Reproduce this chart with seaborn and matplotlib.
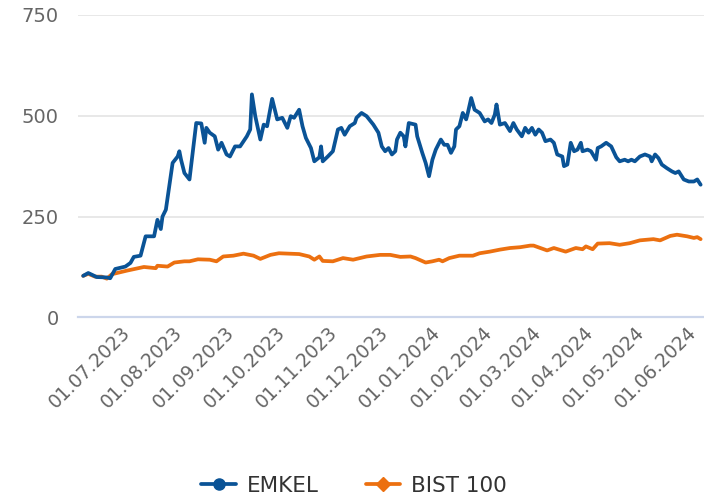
import pandas as pd
import seaborn as sns
import matplotlib.pyplot as plt
import matplotlib.dates as mdates
from matplotlib.lines import Line2D

sns.set_style("white")
plt.rcParams['font.family'] = ['DejaVu Sans']

# EMKEL (normalised to 100 at start)
emkel_dates = [
    "2023-06-05", "2023-06-08", "2023-06-13", "2023-06-19", "2023-06-21", "2023-06-24", "2023-06-30",
    "2023-07-03", "2023-07-05", "2023-07-09", "2023-07-12", "2023-07-17", "2023-07-19", "2023-07-21",
    "2023-07-22", "2023-07-24", "2023-07-28", "2023-07-31", "2023-08-01", "2023-08-02", "2023-08-04",
    "2023-08-07", "2023-08-11", "2023-08-14", "2023-08-16", "2023-08-17", "2023-08-19", "2023-08-22",
    "2023-08-24", "2023-08-26", "2023-08-29", "2023-08-31", "2023-09-03", "2023-09-06", "2023-09-10",
    "2023-09-12", "2023-09-13", "2023-09-15", "2023-09-18", "2023-09-20", "2023-09-22", "2023-09-25",
    "2023-09-28", "2023-10-01", "2023-10-04", "2023-10-06", "2023-10-08", "2023-10-11", "2023-10-13",
    "2023-10-15", "2023-10-18", "2023-10-20", "2023-10-23", "2023-10-24", "2023-10-25", "2023-10-28",
    "2023-10-31", "2023-11-03", "2023-11-05", "2023-11-07", "2023-11-10", "2023-11-13", "2023-11-14",
    "2023-11-17", "2023-11-20", "2023-11-24", "2023-11-27", "2023-11-29", "2023-12-01", "2023-12-03",
    "2023-12-05", "2023-12-07", "2023-12-08", "2023-12-10", "2023-12-12", "2023-12-13", "2023-12-15",
    "2023-12-19", "2023-12-20", "2023-12-23", "2023-12-25", "2023-12-27", "2023-12-29", "2023-12-31",
    "2024-01-03", "2024-01-05", "2024-01-07", "2024-01-09", "2024-01-11", "2024-01-12", "2024-01-14",
    "2024-01-16", "2024-01-18", "2024-01-19", "2024-01-21", "2024-01-23", "2024-01-26", "2024-01-29",
    "2024-01-31", "2024-02-02", "2024-02-04", "2024-02-05", "2024-02-07", "2024-02-10", "2024-02-13",
    "2024-02-15", "2024-02-17", "2024-02-20", "2024-02-22", "2024-02-24", "2024-02-26", "2024-02-28",
    "2024-03-01", "2024-03-03", "2024-03-05", "2024-03-08", "2024-03-10", "2024-03-12", "2024-03-15",
    "2024-03-16", "2024-03-18", "2024-03-20", "2024-03-22", "2024-03-24", "2024-03-26", "2024-03-27",
    "2024-03-30", "2024-04-01", "2024-04-04", "2024-04-05", "2024-04-07", "2024-04-10", "2024-04-13",
    "2024-04-16", "2024-04-18", "2024-04-21", "2024-04-23", "2024-04-25", "2024-04-27", "2024-04-30",
    "2024-05-03", "2024-05-06", "2024-05-07", "2024-05-09", "2024-05-11", "2024-05-13", "2024-05-16",
    "2024-05-19", "2024-05-21", "2024-05-23", "2024-05-26", "2024-05-29", "2024-06-01", "2024-06-03",
    "2024-06-05",
]
emkel_values = [
    103, 110, 100, 99, 97, 120, 126,
    135, 150, 153, 201, 201, 242, 219,
    250, 267, 383, 399, 412, 391, 358,
    342, 482, 481, 433, 470, 458, 449,
    416, 433, 404, 399, 424, 424, 449,
    466, 553, 499, 441, 478, 474, 542,
    491, 495, 470, 499, 495, 515, 474,
    445, 420, 387, 397, 424, 387, 399,
    412, 466, 470, 453, 474, 482, 495,
    507, 499, 478, 458, 424, 412, 420,
    404, 412, 441, 458, 449, 424, 482,
    478, 449, 408, 383, 350, 391, 416,
    441, 428, 428, 408, 424, 466, 474,
    507, 491, 507, 544, 515, 507, 486,
    491, 482, 503, 528, 478, 482, 462,
    482, 466, 449, 470, 458, 470, 453,
    466, 458, 437, 441, 433, 404, 399,
    375, 379, 433, 412, 416, 433, 412,
    416, 412, 391, 420, 424, 433, 424,
    397, 387, 391, 387, 391, 387, 399,
    404, 399, 387, 404, 395, 379, 370,
    362, 358, 362, 342, 337, 337, 342,
    329,
]

# BIST 100 (normalised to 100 at start)
bist_dates = [
    "2023-06-05", "2023-06-08", "2023-06-12", "2023-06-16", "2023-06-19", "2023-06-22", "2023-07-01",
    "2023-07-11", "2023-07-18", "2023-07-19", "2023-07-25", "2023-07-29", "2023-08-04", "2023-08-07",
    "2023-08-12", "2023-08-19", "2023-08-23", "2023-08-27", "2023-09-02", "2023-09-08", "2023-09-14",
    "2023-09-18", "2023-09-24", "2023-09-29", "2023-10-05", "2023-10-11", "2023-10-17", "2023-10-20",
    "2023-10-23", "2023-10-25", "2023-10-31", "2023-11-06", "2023-11-12", "2023-11-20", "2023-11-28",
    "2023-12-04", "2023-12-10", "2023-12-16", "2023-12-19", "2023-12-25", "2023-12-29", "2024-01-02",
    "2024-01-04", "2024-01-08", "2024-01-14", "2024-01-22", "2024-01-26", "2024-02-01", "2024-02-07",
    "2024-02-13", "2024-02-19", "2024-02-25", "2024-02-27", "2024-03-02", "2024-03-06", "2024-03-10",
    "2024-03-17", "2024-03-23", "2024-03-27", "2024-03-29", "2024-04-02", "2024-04-05", "2024-04-12",
    "2024-04-18", "2024-04-24", "2024-04-30", "2024-05-08", "2024-05-12", "2024-05-18", "2024-05-22",
    "2024-05-28", "2024-06-01", "2024-06-03", "2024-06-05",
]
bist_values = [
    103, 108, 101, 101, 96, 107, 116,
    125, 122, 128, 126, 136, 139, 139,
    144, 143, 139, 151, 153, 158, 153,
    145, 155, 159, 158, 157, 151, 143,
    151, 140, 139, 147, 143, 151, 155,
    155, 150, 151, 147, 136, 139, 143,
    139, 147, 153, 153, 159, 163, 168,
    172, 174, 178, 178, 172, 166, 172,
    163, 172, 169, 176, 169, 183, 184,
    180, 184, 191, 194, 191, 202, 205,
    201, 197, 199, 194,
]

emkel = pd.DataFrame({"date": pd.to_datetime(emkel_dates), "value": emkel_values})
bist = pd.DataFrame({"date": pd.to_datetime(bist_dates), "value": bist_values})

blue = "#0a5396"
orange = "#ec7010"

fig = plt.figure(figsize=(7.04, 4.99), dpi=100)
ax = fig.add_axes([0.111, 0.364, 0.889, 0.606])

sns.lineplot(data=bist, x="date", y="value", ax=ax, color=orange, lw=2.7, zorder=3)
sns.lineplot(data=emkel, x="date", y="value", ax=ax, color=blue, lw=2.7, zorder=4)

ax.set_ylim(0, 750)
ax.set_yticks([0, 250, 500, 750])
ax.set_xlim(pd.Timestamp("2023-06-02"), pd.Timestamp("2024-06-07"))
ax.xaxis.set_major_locator(mdates.MonthLocator(bymonthday=1))
ax.xaxis.set_major_formatter(mdates.DateFormatter("%d.%m.%Y"))

ax.set_xlabel("")
ax.set_ylabel("")
ax.yaxis.grid(True, color="#e6e6e6", lw=1.3)
ax.set_axisbelow(True)
for s in ["left", "top", "right"]:
    ax.spines[s].set_visible(False)
ax.spines["bottom"].set_color("#ccd6eb")
ax.spines["bottom"].set_linewidth(1.6)

ax.tick_params(axis="y", length=0, pad=14, labelsize=14, labelcolor="#666666")
ax.tick_params(axis="x", length=7, width=1.2, color="#ccd6eb", pad=2,
               labelsize=13.5, labelcolor="#666666")
for lab in ax.get_xticklabels():
    lab.set_rotation(45)
    lab.set_ha("right")
    lab.set_va("center")
    lab.set_rotation_mode("anchor")

handles = [
    Line2D([], [], color=blue, lw=2.7, marker="o", markersize=8),
    Line2D([], [], color=orange, lw=2.7, marker="D", markersize=7),
]
fig.legend(handles, ["EMKEL", "BIST 100"], loc="center", bbox_to_anchor=(0.503, 0.026),
           ncol=2, frameon=False, fontsize=15.5, handlelength=1.6, handletextpad=0.5,
           columnspacing=2.2, labelcolor="#333333")

plt.savefig("out.png", dpi=100)
